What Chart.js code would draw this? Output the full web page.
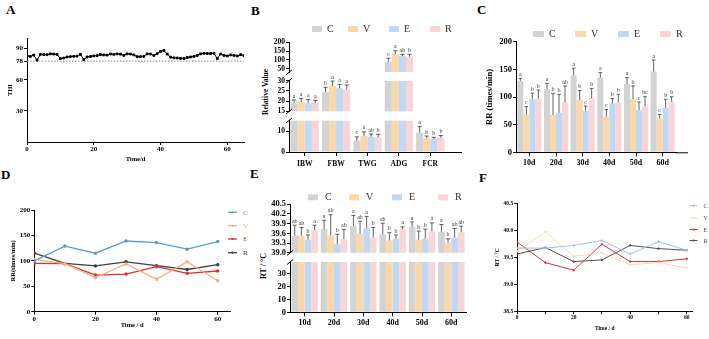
<!DOCTYPE html>
<html>
<head>
<meta charset="utf-8">
<title>THI, growth, RR and RT</title>
<script src="https://cdn.jsdelivr.net/npm/chart.js@4.4.1/dist/chart.umd.min.js"></script>
<style>
  body { margin: 0; width: 709px; height: 339px; position: relative; overflow: hidden; background: #fff;
         font-family: "Liberation Serif", "Times New Roman", serif; }
  canvas { position: absolute; }
  .tag { position: absolute; font-weight: bold; font-size: 13px; line-height: 13px; }
  .ytitle { position: absolute; font-weight: bold; white-space: nowrap; transform: translate(-50%, -50%) rotate(-90deg); }
</style>
</head>
<body>
<div class="tag" style="left:6px;top:3px">A</div>
<div class="tag" style="left:251px;top:4px">B</div>
<div class="tag" style="left:477px;top:3px">C</div>
<div class="tag" style="left:1px;top:168px">D</div>
<div class="tag" style="left:250px;top:167px">E</div>
<div class="tag" style="left:479px;top:171px">F</div>
<div class="ytitle" style="left:265px;top:92px;font-size:7.5px">Relative Value</div>
<div class="ytitle" style="left:263px;top:266px;font-size:8px">RT / °C</div>

<script>
// groups
const groups = ['C', 'V', 'E', 'R'];

// A - daily THI
const thiValues = [83.2, 82.5, 83.8, 79.0, 84.5, 84.3, 84.2, 85.0, 84.8, 84.5,
  80.5, 81.0, 82.0, 82.3, 82.6, 82.8, 84.5, 79.5, 82.0, 82.5,
  83.0, 83.3, 84.3, 84.0, 83.8, 84.8, 84.5, 85.0, 84.7, 83.5,
  85.0, 84.8, 84.0, 82.3, 82.3, 82.5, 85.0, 84.8, 83.5, 85.2,
  87.3, 88.3, 84.8, 81.8, 81.2, 81.0, 80.6, 80.5, 81.5, 82.0,
  82.5, 83.5, 85.0, 85.5, 85.3, 85.3, 85.6, 80.5, 84.8, 83.5,
  83.0, 84.0, 83.5, 83.0, 84.2, 83.3];
const thiLimit = 78;
const thiTicksY = [30, 60, 78, 90];
const dayTicks = [0, 20, 40, 60];

// B - growth performance
const growthCats = ['IBW', 'FBW', 'TWG', 'ADG', 'FCR'];
const growthC = [19.3, 24.4, 5.2, 90, 9.2];
const growthV = [19.6, 27.4, 7.6, 134, 6.5];
const growthE = [19.3, 26.3, 7.3, 122, 6.2];
const growthR = [19.1, 25.8, 7.0, 118, 6.8];
const growthErrC = [1.3, 2.4, 2.0, 20, 2.9];
const growthErrV = [1.8, 2.4, 2.0, 18, 1.1];
const growthErrE = [1.5, 1.9, 1.3, 9, 0.8];
const growthErrR = [1.3, 2.1, 1.4, 14, 1.0];
const growthSigC = ['a', 'b', 'c', 'c', 'a'];
const growthSigV = ['a', 'a', 'a', 'a', 'b'];
const growthSigE = ['a', 'a', 'ab', 'ab', 'b'];
const growthSigR = ['a', 'a', 'b', 'b', 'b'];
const growthTicksTop = [50, 100, 150, 200];
const growthTicksMid = [15, 20, 25, 30];
const growthTicksLow = [0, 10];

// C - respiratory rate, bars
const rrCats = ['10d', '20d', '30d', '40d', '50d', '60d'];
const rrC = [129, 114.5, 139, 135.5, 123.5, 146];
const rrV = [67.5, 67.5, 94.5, 64.5, 96, 61];
const rrE = [96, 71.5, 74.5, 88.5, 76.5, 80.5];
const rrR = [97, 90, 97.5, 90, 82.5, 91.5];
const rrErrC = [5, 10, 13, 8.5, 11.5, 21];
const rrErrV = [15, 39, 17, 13, 24, 7.5];
const rrErrE = [11, 33, 9, 8.5, 14.5, 15.5];
const rrErrR = [15.5, 30, 18, 15, 18, 9];
const rrSigC = ['a', 'a', 'a', 'a', 'a', 'a'];
const rrSigV = ['c', 'b', 'b', 'c', 'b', 'c'];
const rrSigE = ['b', 'b', 'c', 'b', 'c', 'b'];
const rrSigR = ['b', 'ab', 'b', 'b', 'bc', 'b'];
const rrTicks = [0, 50, 100, 150, 200];

// D - respiratory rate, lines
const rrDays = [0, 10, 20, 30, 40, 50, 60];
const rrLineC = [100, 129, 115, 139, 136, 123, 138];
const rrLineV = [103, 94.5, 67, 94, 64, 98, 61];
const rrLineE = [95, 94.5, 72, 74, 88.5, 75.5, 80];
const rrLineR = [115, 95, 90, 98, 90.5, 83, 92.5];

// E - rectal temperature, bars
const rtCats = ['10d', '20d', '30d', '40d', '50d', '60d'];
const rtC = [39.53, 39.73, 39.82, 39.57, 39.80, 39.65];
const rtV = [39.53, 39.53, 39.58, 39.38, 39.40, 39.30];
const rtE = [39.40, 39.27, 39.75, 39.43, 39.43, 39.47];
const rtR = [39.70, 39.42, 39.47, 39.72, 39.66, 39.63];
const rtErrC = [0.32, 0.27, 0.33, 0.34, 0.15, 0.22];
const rtErrV = [0.25, 0.64, 0.39, 0.24, 0.27, 0.13];
const rtErrE = [0.15, 0.30, 0.37, 0.12, 0.30, 0.28];
const rtErrR = [0.15, 0.30, 0.31, 0.08, 0.26, 0.19];
const rtSigC = ['ab', 'a', 'a', 'ab', 'a', 'a'];
const rtSigV = ['ab', 'ab', 'ab', 'b', 'b', 'b'];
const rtSigE = ['b', 'b', 'a', 'b', 'b', 'ab'];
const rtSigR = ['a', 'ab', 'b', 'a', 'a', 'ab'];
const rtTicksTop = [39.0, 39.3, 39.6, 39.9, 40.2, 40.5];
const rtTicksLow = [0, 10, 20, 30];

// F - rectal temperature, lines
const rtDays = [0, 10, 20, 30, 40, 50, 60];
const rtLineC = [39.67, 39.67, 39.72, 39.81, 39.56, 39.79, 39.63];
const rtLineV = [39.61, 39.97, 39.52, 39.58, 39.36, 39.40, 39.30];
const rtLineE = [39.78, 39.40, 39.26, 39.74, 39.42, 39.42, 39.47];
const rtLineR = [39.56, 39.68, 39.42, 39.45, 39.72, 39.66, 39.63];
const rtDayTicks = [0, 10, 20, 30, 40, 50, 60];
const rtTicksF = [38.5, 39.0, 39.5, 40.0, 40.5];

// ---------- look ----------
const SERIF = '"Liberation Serif", "Times New Roman", serif';
const barColors = ['#d3d3d3', '#fbd8a9', '#bed8f5', '#fad5d8'];
const lineColorsD = ['#5b9bd5', '#f4b183', '#e0302f', '#3f3f3f'];
const lineColorsF = ['#9dc3e6', '#f3dfae', '#d8343c', '#505050'];

function pageX(chart) { return parseFloat(chart.canvas.style.left); }
function pageY(chart) { return parseFloat(chart.canvas.style.top); }

// error bars + letters above the bars whose top falls inside this segment
const barMarks = {
  id: 'barMarks',
  afterDatasetsDraw(chart, args, opts) {
    const ctx = chart.ctx, ys = chart.scales.y;
    chart.data.datasets.forEach((ds, di) => {
      const meta = chart.getDatasetMeta(di);
      ds.raw.forEach((v, i) => {
        if (v <= ys.min || v > ys.max) return;
        const el = meta.data[i];
        const y0 = ys.getPixelForValue(v), y1 = ys.getPixelForValue(v + ds.errs[i]);
        const half = el.width * 0.3;
        ctx.save();
        ctx.strokeStyle = '#3a3a3a';
        ctx.lineWidth = 0.8;
        ctx.beginPath();
        ctx.moveTo(el.x, y0); ctx.lineTo(el.x, y1);
        ctx.moveTo(el.x - half, y1); ctx.lineTo(el.x + half, y1);
        ctx.stroke();
        ctx.fillStyle = '#333';
        ctx.font = (opts.size || 6) + 'px ' + SERIF;
        ctx.textAlign = 'center';
        ctx.textBaseline = 'bottom';
        ctx.fillText(ds.sig[i], el.x, y1 - 1);
        ctx.restore();
      });
    });
  }
};

// box legend at fixed page positions
const boxLegend = {
  id: 'boxLegend',
  afterDraw(chart, args, o) {
    const ctx = chart.ctx, ox = pageX(chart), oy = pageY(chart);
    ctx.save();
    o.xs.forEach((px, i) => {
      const ds = chart.data.datasets[i];
      ctx.fillStyle = ds.backgroundColor;
      ctx.fillRect(px - ox, o.y - oy - o.h / 2, o.w, o.h);
      ctx.fillStyle = '#333';
      ctx.font = o.size + 'px ' + SERIF;
      ctx.textAlign = 'left';
      ctx.textBaseline = 'middle';
      ctx.fillText(ds.label, px - ox + o.w + o.gap, o.y - oy + 0.5);
    });
    ctx.restore();
  }
};

// line legend at fixed page positions
const lineLegend = {
  id: 'lineLegend',
  afterDraw(chart, args, o) {
    const ctx = chart.ctx, ox = pageX(chart), oy = pageY(chart);
    ctx.save();
    o.ys.forEach((py, i) => {
      const ds = chart.data.datasets[i];
      const y = py - oy;
      ctx.strokeStyle = ds.borderColor;
      ctx.lineWidth = ds.borderWidth;
      ctx.beginPath();
      ctx.moveTo(o.x1 - ox, y); ctx.lineTo(o.x2 - ox, y);
      ctx.stroke();
      ctx.fillStyle = ds.borderColor;
      ctx.beginPath();
      ctx.arc((o.x1 + o.x2) / 2 - ox, y, 1.1, 0, Math.PI * 2);
      ctx.fill();
      ctx.fillStyle = o.textColor || ds.borderColor;
      ctx.font = o.size + 'px ' + SERIF;
      ctx.textAlign = 'left';
      ctx.textBaseline = 'middle';
      ctx.fillText(ds.label, o.tx - ox, y + 0.5);
    });
    ctx.restore();
  }
};

// axis break slashes and x-axis extension
const axisDeco = {
  id: 'axisDeco',
  afterDraw(chart, args, o) {
    const ctx = chart.ctx, a = chart.chartArea;
    ctx.save();
    ctx.strokeStyle = '#000';
    ctx.lineWidth = 1;
    const ends = [];
    if (o.breakTop) ends.push(a.top);
    if (o.breakBottom) ends.push(a.bottom);
    ends.forEach(y => {
      ctx.beginPath();
      ctx.moveTo(a.left - 3, y + 2.5);
      ctx.lineTo(a.left + 3, y - 2.5);
      ctx.stroke();
    });
    if (o.extendTo) {
      ctx.beginPath();
      ctx.moveTo(a.right, a.bottom + 0.5);
      ctx.lineTo(o.extendTo - pageX(chart), a.bottom + 0.5);
      ctx.stroke();
    }
    ctx.restore();
  }
};

function tickFont(size, extra) {
  return Object.assign({ color: '#000', padding: 1, autoSkip: false, maxRotation: 0,
    font: { family: SERIF, weight: 'bold', size: size } }, extra);
}

function yAxis(size, ticks, extra) {
  return Object.assign({
    border: { display: true, color: '#000', width: 1 },
    grid: { display: true, drawOnChartArea: false, tickLength: 3, color: '#000' },
    ticks: tickFont(size),
    afterBuildTicks: s => { s.ticks = ticks.map(v => ({ value: v })); }
  }, extra);
}

function xCat(size, tickLen, pad, extra) {
  return Object.assign({
    border: { display: true, color: '#000', width: 1 },
    grid: { display: true, drawOnChartArea: false, tickLength: tickLen, color: '#000', offset: false },
    ticks: tickFont(size, { padding: pad })
  }, extra);
}

function axisTitle(text, size) {
  return { display: true, text: text, color: '#000', padding: 0, font: { family: SERIF, weight: 'bold', size: size } };
}

// places a chart so that its plot area lands on the given page rectangle
function build(box, area, cfg) {
  const cv = document.createElement('canvas');
  cv.width = box.r - box.l;
  cv.height = box.b - box.t;
  cv.style.left = box.l + 'px';
  cv.style.top = box.t + 'px';
  document.body.appendChild(cv);
  const o = cfg.options;
  const showX = o.scales.x.display !== false;
  o.responsive = false;
  o.animation = false;
  o.layout = { autoPadding: false,
    padding: { left: 0, top: area.t - box.t, right: box.r - area.r, bottom: showX ? 0 : box.b - area.b } };
  o.scales.y.afterFit = s => { s.width = area.l - box.l; };
  if (showX) o.scales.x.afterFit = s => { s.height = box.b - area.b; };
  o.plugins = Object.assign({ legend: { display: false }, tooltip: { enabled: false } }, o.plugins);
  return new Chart(cv, cfg);
}

// bars cut to one segment of a broken axis
function segBars(means, errs, sigs, lo, hi) {
  return groups.map((g, k) => ({
    label: g,
    data: means[k].map(v => (v > lo ? [lo, Math.min(v, hi)] : null)),
    raw: means[k], errs: errs[k], sig: sigs[k],
    backgroundColor: barColors[k], borderWidth: 0,
    barPercentage: 1, categoryPercentage: 0.9
  }));
}

// ---------- A ----------
build({ l: 6, t: 28, r: 250, b: 163 }, { l: 27, t: 38.3, r: 244, b: 142 }, {
  type: 'line',
  data: { datasets: [
    { data: thiValues.map((v, i) => ({ x: i, y: v })), borderColor: '#000', backgroundColor: '#000',
      borderWidth: 1, pointRadius: 1.3, pointStyle: 'rect', tension: 0 },
    { data: [{ x: 0, y: thiLimit }, { x: thiValues.length - 1, y: thiLimit }], borderColor: '#8a8a8a',
      borderWidth: 1, borderDash: [1.5, 1.5], pointRadius: 0 }
  ] },
  options: { scales: {
    x: Object.assign(xCat(7, 3, 0), { type: 'linear', min: 0, max: thiValues.length - 1,
      afterBuildTicks: s => { s.ticks = dayTicks.map(v => ({ value: v })); },
      title: axisTitle('Time/d', 6.5) }),
    y: yAxis(7, thiTicksY, { min: 0, max: 100, title: axisTitle('THI', 6.5) })
  } }
});

// ---------- B (broken axis: three segments) ----------
const growthMeans = [growthC, growthV, growthE, growthR];
const growthErrs = [growthErrC, growthErrV, growthErrE, growthErrR];
const growthSigs = [growthSigC, growthSigV, growthSigE, growthSigR];
const bSegs = [
  { lo: 30, hi: 200, ticks: growthTicksTop, box: { l: 262, t: 20, r: 466, b: 78 }, area: { l: 289, t: 42.3, r: 446, b: 72.3 } },
  { lo: 15, hi: 30, ticks: growthTicksMid, box: { l: 262, t: 75, r: 466, b: 117 }, area: { l: 289, t: 80.7, r: 446, b: 111.7 } },
  { lo: 0, hi: 15, ticks: growthTicksLow, box: { l: 262, t: 114, r: 466, b: 170 }, area: { l: 289, t: 120.5, r: 446, b: 152 } }
];
bSegs.forEach((sg, n) => {
  const last = n === bSegs.length - 1;
  build(sg.box, sg.area, {
    type: 'bar',
    data: { labels: growthCats, datasets: segBars(growthMeans, growthErrs, growthSigs, sg.lo, sg.hi) },
    options: {
      scales: {
        x: last ? xCat(7.5, 4, 4) : { display: false },
        y: yAxis(7.5, sg.ticks, { min: sg.lo, max: sg.hi })
      },
      plugins: {
        barMarks: { size: 6 },
        axisDeco: { breakTop: n > 0, breakBottom: !last, extendTo: last ? 462 : 0 },
        boxLegend: n === 0 ? { xs: [312, 348, 389, 430], y: 29, w: 10, h: 6, gap: 5, size: 10 } : { xs: [] }
      }
    },
    plugins: [barMarks, axisDeco, boxLegend]
  });
});

// ---------- C ----------
build({ l: 485, t: 20, r: 692, b: 170 }, { l: 516, t: 41.7, r: 676, b: 152.3 }, {
  type: 'bar',
  data: { labels: rrCats, datasets: segBars([rrC, rrV, rrE, rrR], [rrErrC, rrErrV, rrErrE, rrErrR],
    [rrSigC, rrSigV, rrSigE, rrSigR], 0, 200) },
  options: {
    scales: {
      x: xCat(8, 4, 2),
      y: yAxis(8.5, rrTicks, { min: 0, max: 200, title: axisTitle('RR (times/min)', 8.5) })
    },
    plugins: {
      barMarks: { size: 6 },
      axisDeco: { extendTo: 688 },
      boxLegend: { xs: [533, 575, 618, 660], y: 34, w: 11, h: 6, gap: 5, size: 10 }
    }
  },
  plugins: [barMarks, axisDeco, boxLegend]
});

// ---------- D ----------
const rrLines = [rrLineC, rrLineV, rrLineE, rrLineR];
build({ l: 9, t: 195, r: 252, b: 329 }, { l: 34.3, t: 210, r: 230, b: 311.7 }, {
  type: 'line',
  data: { datasets: groups.map((g, k) => ({
    label: g, data: rrDays.map((d, i) => ({ x: d, y: rrLines[k][i] })),
    borderColor: lineColorsD[k], backgroundColor: lineColorsD[k], borderWidth: 1.3,
    pointRadius: 1.1, tension: 0 })) },
  options: {
    scales: {
      x: Object.assign(xCat(7, 3, 0), { type: 'linear', min: 0, max: 64,
        afterBuildTicks: s => { s.ticks = dayTicks.map(v => ({ value: v })); },
        title: axisTitle('Time / d', 6.5) }),
      y: yAxis(7, rrTicks, { min: 0, max: 200, title: axisTitle('RR(times/min)', 6.5) })
    },
    plugins: { lineLegend: { x1: 228, x2: 237, tx: 243, ys: [212.3, 225.7, 239, 252.7], size: 7 } }
  },
  plugins: [lineLegend]
});

// ---------- E (broken axis: two segments) ----------
const rtMeans = [rtC, rtV, rtE, rtR];
const rtErrs = [rtErrC, rtErrV, rtErrE, rtErrR];
const rtSigs = [rtSigC, rtSigV, rtSigE, rtSigR];
const eSegs = [
  { lo: 39.0, hi: 40.5, ticks: rtTicksTop, box: { l: 262, t: 185, r: 470, b: 259 }, area: { l: 290, t: 204, r: 466, b: 253.7 } },
  { lo: 0, hi: 39.0, ticks: rtTicksLow, box: { l: 262, t: 256, r: 470, b: 331 }, area: { l: 290, t: 262, r: 466, b: 312.3 } }
];
eSegs.forEach((sg, n) => {
  const last = n === eSegs.length - 1;
  build(sg.box, sg.area, {
    type: 'bar',
    data: { labels: rtCats, datasets: segBars(rtMeans, rtErrs, rtSigs, sg.lo, sg.hi) },
    options: {
      scales: {
        x: last ? xCat(8, 4, 2) : { display: false },
        y: yAxis(8.5, sg.ticks, { min: sg.lo, max: sg.hi,
          ticks: tickFont(8.5, { callback: v => (last ? v : v.toFixed(1)) }) })
      },
      plugins: {
        barMarks: { size: 6 },
        axisDeco: { breakTop: n > 0, breakBottom: !last },
        boxLegend: n === 0 ? { xs: [308, 349, 392, 438], y: 197.3, w: 10, h: 6, gap: 7, size: 10 } : { xs: [] }
      }
    },
    plugins: [barMarks, axisDeco, boxLegend]
  });
});

// ---------- F ----------
const rtLines = [rtLineC, rtLineV, rtLineE, rtLineR];
build({ l: 493.5, t: 195, r: 709, b: 332.5 }, { l: 516.7, t: 203.3, r: 692.3, b: 311.7 }, {
  type: 'line',
  data: { datasets: groups.map((g, k) => ({
    label: g, data: rtDays.map((d, i) => ({ x: d, y: rtLines[k][i] })),
    borderColor: lineColorsF[k], backgroundColor: lineColorsF[k], borderWidth: 1,
    pointRadius: 0.8, tension: 0 })) },
  options: {
    scales: {
      x: Object.assign(xCat(5.5, 3, 0), { type: 'linear', min: 0, max: 62,
        afterBuildTicks: s => { s.ticks = rtDayTicks.map(v => ({ value: v })); },
        ticks: tickFont(5.5, { padding: 0, callback: v => (dayTicks.includes(v) ? v : '') }),
        title: axisTitle('Time / d', 5.5) }),
      y: yAxis(5.5, rtTicksF, { min: 38.5, max: 40.5, title: axisTitle('RT / °C', 5.5),
        ticks: tickFont(5.5, { callback: v => v.toFixed(1) }) })
    },
    plugins: { lineLegend: { x1: 689, x2: 697, tx: 703, ys: [205.7, 218, 229.5, 240.5], size: 6, textColor: '#444' } }
  },
  plugins: [lineLegend]
});
</script>
</body>
</html>
